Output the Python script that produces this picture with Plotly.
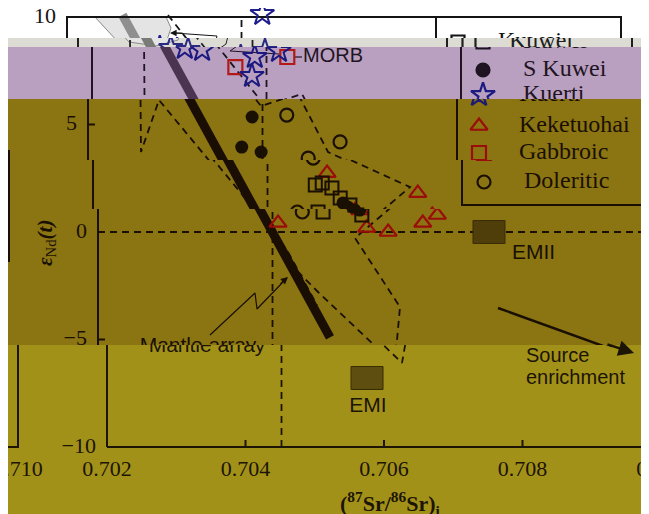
import plotly.graph_objects as go

W, H = 649, 514
OFF = 8  # page margin of the html body (screen px = figure px + OFF)

# ---------------- data ----------------
kuwei_x = [0.70521, 0.70531, 0.70545, 0.70557, 0.70571, 0.70581, 0.70525]
kuwei_y = [2.19, 2.28, 2.05, 1.58, 1.26, 0.79, 0.93]
skuwei_x = [0.70437, 0.70422, 0.70450, 0.70561, 0.70568, 0.70578]
skuwei_y = [5.35, 3.95, 3.72, 1.35, 1.16, 1.02]
kuerti_x = [0.70334, 0.70359, 0.70482, 0.70435, 0.70431, 0.70470]
kuerti_y = [8.56, 8.47, 10.14, 8.14, 7.26, 8.42]
keke_x = [0.70538, 0.70460, 0.70669, 0.70588, 0.70619, 0.70669, 0.70690, 0.70578]
keke_y = [2.74, 0.42, 1.81, 0.19, 0.00, 0.42, 0.79, 1.00]
gabbro_x = [0.70407, 0.70482]
gabbro_y = [7.67, 8.14]
doler_x = [0.70487, 0.70564, 0.70518, 0.70495]
doler_y = [5.44, 4.19, 3.44, 0.93]

mantle_x = [0.70280, 0.70535]
mantle_y = [10.1, -4.9]
bulk_earth_x = 0.70452
bulk_earth_y = 0.0

fieldA_x = [0.702751, 0.702765, 0.703025, 0.703747, 0.704137, 0.704426, 0.704744, 0.705162]
fieldA_y = [8.93, 3.72, 6.14, 3.35, 1.81, 0.56, -0.93, -3.40]
fieldB_x = [0.703458, 0.704498, 0.705033, 0.705466, 0.706578, 0.705711, 0.706361,
            0.706318, 0.706260, 0.705177, 0.704830]
fieldB_y = [10.09, 5.86, 6.42, 3.72, 2.09, -0.28, -3.49, -5.02, -6.09, -2.79, -1.67]
morb_x = [0.702404, 0.703430, 0.703502, 0.703444, 0.703126, 0.702736, 0.702404]
morb_y = [10.0, 10.0, 9.49, 8.93, 8.65, 8.84, 10.0]

emii = (0.707646, 0.0)
emi = (0.705755, -6.79)

x_ticks = [0.702, 0.704, 0.706, 0.708, 0.710]
x_tick_labels = ["0.702", "0.704", "0.706", "0.708", "0.710"]
y_ticks = [-10, -5, 0, 5, 10]
y_tick_labels = ["\u221210", "\u22125", "0", "5", "10"]
XMIN, XMAX, YMIN, YMAX = 0.702, 0.710, -10, 10

legend_names = ["Kuwei", "S Kuwei", "Kuerti", "Keketuohai", "Gabbroic", "Doleritic"]

# ---------------- pixel calibration of the panel (screen px) ----------------
XPX0, XPPU = 107.0, 69250.0   # screen px of x=0.702, px per unit
Y0PX, YPPU = 232.0, 21.5       # screen px of y=0, px per unit


def bx(px):
    return XMIN + (px - XPX0) / XPPU


def by(py):
    return (Y0PX - py) / YPPU


def row_of(y):
    return Y0PX - y * YPPU


def col_of(x):
    return XPX0 + (x - XMIN) * XPPU


def dom_x(px):
    return min(max((px - OFF) / W, 0.0), 1.0)


def dom_y(py):
    return min(max(1 - (py - OFF) / H, 0.0), 1.0)


SERIF = "Liberation Serif"
SANS = "Liberation Sans"

PAL = {
    "white": dict(ink="#141414", mantle="#8f8f8f", red="#c02020", navy="#1e1e8c", em="#4f3e09"),
    "gray": dict(ink="#202020", mantle="#7a7a76", red="#a82020", navy="#2a2a84", em="#4f3e09"),
    "purple": dict(ink="#1f1422", mantle="#4b3452", red="#b21a1a", navy="#1c1a80", em="#4f3e09"),
    "olive": dict(ink="#1a0f03", mantle="#1a0d04", red="#9a0d08", navy="#1e1a74", em="#4f3e09"),
    "yellow": dict(ink="#1c1405", mantle="#1a0d04", red="#9a0d08", navy="#1e1a74", em="#5e4e10"),
}

# (row0, row1, horizontal shift px, background, palette, screen x from, screen x to, wrap)
BANDS = [
    (0, 38, -40, "#ffffff", "white", OFF, OFF + W, False),
    (38, 47, -29, "#dddcd4", "gray", OFF, OFF + W, False),
    (47, 99, -15, "#b9a0c0", "purple", OFF, OFF + W, False),
    (99, 160, -19, "#8a7512", "olive", OFF, OFF + W, False),
    (160, 209, -14, "#8a7512", "olive", OFF, OFF + W, False),
    (209, 345, -9, "#8a7512", "olive", OFF, OFF + W, False),
    (345, 514, 0, "#a29119", "yellow", OFF, OFF + W, False),
    (345, 514, -643, None, "yellow", OFF, 60, True),
]

# text items: (x, y, text, textposition, family, size)
leg_rows = [42, 70, 95, 126, 153, 182]
TEXTS = []
for t, lab in zip(y_ticks, y_tick_labels):
    TEXTS.append((bx(96), t, lab, "middle left", SERIF, 22))
for t, lab in zip(x_ticks, x_tick_labels):
    TEXTS.append((t, by(470), lab, "middle center", SERIF, 22))
for name, row in zip(legend_names, leg_rows):
    TEXTS.append((bx(538), by(row), name, "middle right", SERIF, 24))
TEXTS += [
    (bx(318), by(57), "MORB", "middle right", SANS, 20),
    (bx(521), by(254), "EMII", "middle right", SANS, 21),
    (bx(368), by(407), "EMI", "middle center", SANS, 21),
    (bx(526), by(357), "Source", "middle right", SANS, 20),
    (bx(526), by(379), "enrichment", "middle right", SANS, 20),
    (bx(207), by(347), "Mantle array", "middle center", SANS, 21),
]

fig = go.Figure()
layout_axes = {}
shapes = []

for bi, (r0, r1, sh, bg, pk, xp0, xp1, wrap) in enumerate(BANDS):
    n = bi + 1
    s = "" if n == 1 else str(n)
    p = PAL[pk]
    top = max(r0, OFF)
    layout_axes["xaxis" + s] = dict(domain=[dom_x(xp0), dom_x(xp1)],
                                    range=[bx(xp0 - sh), bx(xp1 - sh)],
                                    visible=False, fixedrange=True, anchor="y" + s)
    layout_axes["yaxis" + s] = dict(domain=[dom_y(r1), dom_y(top)],
                                    range=[by(r1), by(top)],
                                    visible=False, fixedrange=True, anchor="x" + s)
    if bg is not None:
        shapes.append(dict(type="rect", xref="paper", yref="paper", x0=0, x1=1,
                           y0=dom_y(r1), y1=dom_y(top), fillcolor=bg,
                           line=dict(width=0), layer="below"))

    def add(tr):
        tr.update(xaxis="x" + s, yaxis="y" + s, showlegend=False, hoverinfo="skip")
        fig.add_trace(tr)

    ink, red, navy = p["ink"], p["red"], p["navy"]
    dash = "7px,5px"

    # MORB field
    add(go.Scatter(x=morb_x, y=morb_y, mode="lines", fill="toself", fillcolor="#e4e4e4",
                   line=dict(color="#8a8a8a", width=1)))
    # mantle array
    add(go.Scatter(x=mantle_x, y=mantle_y, mode="lines",
                   line=dict(color=p["mantle"], width=9)))
    # bulk earth reference lines
    add(go.Scatter(x=[bulk_earth_x, bulk_earth_x], y=[YMIN, YMAX], mode="lines",
                   line=dict(color=ink, width=1.8, dash=dash)))
    add(go.Scatter(x=[XMIN, XMAX], y=[bulk_earth_y, bulk_earth_y], mode="lines",
                   line=dict(color=ink, width=1.8, dash=dash)))
    # dashed fields
    add(go.Scatter(x=fieldA_x, y=fieldA_y, mode="lines",
                   line=dict(color=ink, width=1.8, dash=dash)))
    add(go.Scatter(x=fieldB_x, y=fieldB_y, mode="lines",
                   line=dict(color=ink, width=1.8, dash=dash)))
    # frame
    add(go.Scatter(x=[XMIN, XMAX, XMAX, XMIN, XMIN], y=[YMIN, YMIN, YMAX, YMAX, YMIN],
                   mode="lines", line=dict(color=ink, width=2)))
    tx, ty = [], []
    for t in y_ticks[1:-1]:
        tx += [XMIN, XMIN + 7 / XPPU, None]
        ty += [t, t, None]
    for t in x_ticks[1:-1]:
        tx += [t, t, None]
        ty += [YMIN, YMIN + 7 / YPPU, None]
    add(go.Scatter(x=tx, y=ty, mode="lines", line=dict(color=ink, width=2)))
    # legend box
    add(go.Scatter(x=[bx(476), bx(476), XMAX], y=[YMAX, by(205), by(205)], mode="lines",
                   line=dict(color=ink, width=2)))
    # EM end-members
    for (cx, cy) in (emii, emi):
        hx, hy = 16 / XPPU, 11.5 / YPPU
        add(go.Scatter(x=[cx - hx, cx + hx, cx + hx, cx - hx, cx - hx],
                       y=[cy - hy, cy - hy, cy + hy, cy + hy, cy - hy],
                       mode="lines", fill="toself", fillcolor=p["em"],
                       line=dict(color="#3a2d06", width=1)))
    # MORB leader and label connector
    add(go.Scatter(x=[bx(294), bx(245), bx(255), bx(257), bx(214)],
                   y=[by(54), by(51), by(44), by(36), by(33)], mode="lines",
                   line=dict(color=ink, width=1)))
    add(go.Scatter(x=[bx(309), bx(317)], y=[by(57), by(57)], mode="lines",
                   line=dict(color=ink, width=1.2)))
    # mantle array leader
    add(go.Scatter(x=[bx(219), bx(264), bx(266), bx(292)],
                   y=[by(335), by(293), by(309), by(282)], mode="lines",
                   line=dict(color=ink, width=1.2)))
    # source enrichment arrow shaft
    add(go.Scatter(x=[bx(507), bx(612)], y=[by(308), by(346)], mode="lines",
                   line=dict(color=ink, width=2.4)))

    # data points
    add(go.Scatter(x=keke_x, y=keke_y, mode="markers",
                   marker=dict(symbol="triangle-up-open", size=15, color=red,
                               line=dict(width=2.2, color=red))))
    add(go.Scatter(x=gabbro_x, y=gabbro_y, mode="markers",
                   marker=dict(symbol="square-open", size=14, color=red,
                               line=dict(width=2.2, color=red))))
    add(go.Scatter(x=kuerti_x, y=kuerti_y, mode="markers",
                   marker=dict(symbol="star-open", size=18, color=navy,
                               line=dict(width=2, color=navy))))
    add(go.Scatter(x=kuwei_x, y=kuwei_y, mode="markers",
                   marker=dict(symbol="square-open", size=13, color=ink,
                               line=dict(width=2, color=ink))))
    add(go.Scatter(x=skuwei_x, y=skuwei_y, mode="markers",
                   marker=dict(symbol="circle", size=13, color=ink)))
    add(go.Scatter(x=doler_x, y=doler_y, mode="markers",
                   marker=dict(symbol="circle-open", size=13, color=ink,
                               line=dict(width=2.2, color=ink))))

    # legend markers
    leg_sym = ["square-open", "circle", "star-open", "triangle-up-open", "square-open", "circle-open"]
    leg_col = [ink, ink, navy, red, red, ink]
    leg_size = [13, 13, 18, 15, 14, 13]
    for row, sym, col, sz in zip(leg_rows, leg_sym, leg_col, leg_size):
        add(go.Scatter(x=[bx(498)], y=[by(row)], mode="markers",
                       marker=dict(symbol=sym, size=sz, color=col,
                                   line=dict(width=2.2, color=col))))

    # texts: only those whose extent reaches this band
    for (x, y, txt, pos, fam, size) in TEXTS:
        rc = row_of(y)
        half = 0.55 * size
        if rc + half <= r0 or rc - half >= r1:
            continue
        if wrap:
            c = col_of(x) + sh
            if c < xp0 - 40 or c > xp1 + 40:
                continue
        add(go.Scatter(x=[x], y=[y], text=[txt], mode="text", textposition=pos,
                       textfont=dict(family=fam, size=size, color=ink)))

INK_OLIVE = "#1a0f03"
annotations = [
    dict(xref="x6", yref="y6", x=bx(55), y=by(243), showarrow=False, textangle=-90,
         text="<b><i>\u03b5</i></b><sub>Nd</sub><b><i>(t)</i></b>",
         font=dict(family=SERIF, size=21, color=INK_OLIVE)),
    dict(xref="x7", yref="y7", x=bx(390), y=by(503), showarrow=False,
         text="<b>(<sup>87</sup>Sr/<sup>86</sup>Sr)<sub>i</sub></b>",
         font=dict(family=SERIF, size=22, color="#1c1405")),
    # arrowheads
    dict(xref="x7", yref="y7", axref="x7", ayref="y7", x=bx(634), y=by(353),
         ax=bx(606), ay=by(344), text="", showarrow=True, arrowhead=2,
         arrowsize=1.3, arrowwidth=2.4, arrowcolor="#1c1405"),
    dict(xref="x6", yref="y6", axref="x6", ayref="y6", x=bx(297), y=by(277),
         ax=bx(288), ay=by(285), text="", showarrow=True, arrowhead=2,
         arrowsize=1.2, arrowwidth=1.2, arrowcolor=INK_OLIVE),
    dict(xref="x", yref="y", axref="x", ayref="y", x=bx(210), y=by(33),
         ax=bx(224), ay=by(33), text="", showarrow=True, arrowhead=2,
         arrowsize=1.2, arrowwidth=1.1, arrowcolor="#141414"),
]

shapes.append(dict(type="line", xref="paper", yref="paper", x0=dom_x(9), x1=dom_x(9),
                   y0=dom_y(262), y1=dom_y(150), line=dict(color=INK_OLIVE, width=2)))

fig.update_layout(width=W, height=H, margin=dict(l=0, r=0, t=0, b=0),
                  paper_bgcolor="#ffffff", plot_bgcolor="rgba(0,0,0,0)",
                  showlegend=False, shapes=shapes, annotations=annotations,
                  **layout_axes)

fig.write_html("out.html")
